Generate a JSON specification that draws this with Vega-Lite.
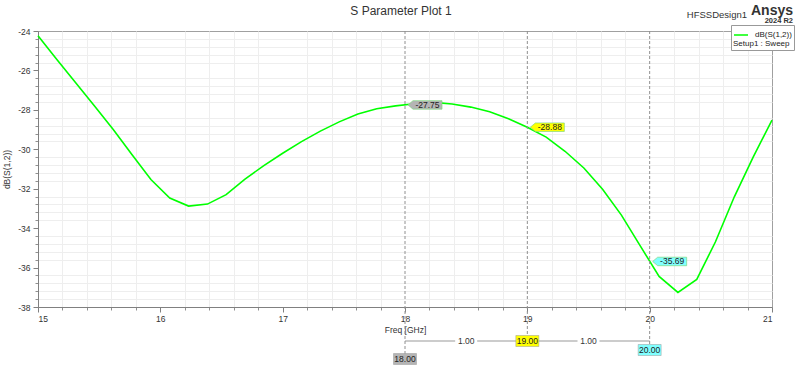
{
  "$schema": "https://vega.github.io/schema/vega-lite/v6.json",
  "width": 734,
  "height": 276,
  "autosize": {"type": "none"},
  "padding": {"left": 38, "top": 31, "right": 28, "bottom": 60},
  "background": "white",
  "config": {"font": "Liberation Sans", "view": {"stroke": "#a0a0a0", "strokeWidth": 1}},
  "resolve": {"axis": {"x": "independent", "y": "independent"}},
  "datasets": {
    "curve": [
      {"f": 15.000, "v": -24.24}, {"f": 15.154, "v": -25.45}, {"f": 15.308, "v": -26.62}, {"f": 15.462, "v": -27.80},
      {"f": 15.615, "v": -29.00}, {"f": 15.769, "v": -30.28}, {"f": 15.923, "v": -31.53}, {"f": 16.077, "v": -32.47},
      {"f": 16.231, "v": -32.88}, {"f": 16.385, "v": -32.78}, {"f": 16.538, "v": -32.30}, {"f": 16.692, "v": -31.51},
      {"f": 16.846, "v": -30.83}, {"f": 17.000, "v": -30.20}, {"f": 17.154, "v": -29.61}, {"f": 17.308, "v": -29.08},
      {"f": 17.462, "v": -28.61}, {"f": 17.615, "v": -28.21}, {"f": 17.769, "v": -27.94}, {"f": 17.923, "v": -27.80},
      {"f": 18.077, "v": -27.69}, {"f": 18.231, "v": -27.62}, {"f": 18.385, "v": -27.70}, {"f": 18.538, "v": -27.86},
      {"f": 18.692, "v": -28.10}, {"f": 18.846, "v": -28.45}, {"f": 19.000, "v": -28.88}, {"f": 19.154, "v": -29.38},
      {"f": 19.308, "v": -30.10}, {"f": 19.462, "v": -30.95}, {"f": 19.615, "v": -32.03}, {"f": 19.769, "v": -33.34},
      {"f": 19.923, "v": -34.90}, {"f": 20.077, "v": -36.45}, {"f": 20.231, "v": -37.26}, {"f": 20.385, "v": -36.60},
      {"f": 20.538, "v": -34.69}, {"f": 20.692, "v": -32.41}, {"f": 20.846, "v": -30.40}, {"f": 21.000, "v": -28.52}
    ],
    "markers": [
      {"name": "m1", "f": 18, "v": -27.75, "label": "-27.75"},
      {"name": "m2", "f": 19, "v": -28.88, "label": "-28.88"},
      {"name": "m3", "f": 20, "v": -35.69, "label": "-35.69"}
    ],
    "deltas": [
      {"a": 18, "b": 19, "d": "1.00"},
      {"a": 19, "b": 20, "d": "1.00"}
    ]
  },
  "layer": [
    {
      "data": {"name": "markers"},
      "mark": {"type": "point", "opacity": 0},
      "encoding": {
        "x": {"field": "f", "type": "quantitative",
          "scale": {"domain": [15, 21], "nice": false, "zero": false},
          "axis": {"orient": "bottom", "title": null, "labels": false, "domain": false,
            "values": [15.2,15.4,15.6,15.8,16.2,16.4,16.6,16.8,17.2,17.4,17.6,17.8,18.2,18.4,18.6,18.8,19.2,19.4,19.6,19.8,20.2,20.4,20.6,20.8],
            "tickSize": 3, "tickColor": "#909090", "gridColor": "#eeeeee"}},
        "y": {"field": "v", "type": "quantitative",
          "scale": {"domain": [-38, -24], "nice": false, "zero": false},
          "axis": {"orient": "left", "title": null, "labels": false, "domain": false,
            "values": [-37.6,-37.2,-36.8,-36.4,-35.6,-35.2,-34.8,-34.4,-33.6,-33.2,-32.8,-32.4,-31.6,-31.2,-30.8,-30.4,-29.6,-29.2,-28.8,-28.4,-27.6,-27.2,-26.8,-26.4,-25.6,-25.2,-24.8,-24.4],
            "tickSize": 3, "tickColor": "#909090", "gridColor": "#eeeeee"}}
      }
    },
    {
      "data": {"name": "curve"},
      "mark": {"type": "line", "strokeWidth": 1.6},
      "encoding": {
        "x": {"field": "f", "type": "quantitative",
          "scale": {"domain": [15, 21], "nice": false, "zero": false},
          "axis": {"orient": "bottom", "title": "Freq [GHz]", "values": [15, 16, 17, 18, 19, 20, 21],
            "labelFlush": true, "labelPadding": 2, "labelColor": "#333333", "labelFontSize": 8.5,
            "domainColor": "#808080", "tickColor": "#808080", "tickSize": 5, "gridColor": "#d4d4d4",
            "titleFontSize": 8.5, "titleFontWeight": "normal", "titleColor": "#333333", "titlePadding": 3}},
        "y": {"field": "v", "type": "quantitative",
          "scale": {"domain": [-38, -24], "nice": false, "zero": false},
          "axis": {"orient": "left", "title": "dB(S(1,2))", "values": [-38, -36, -34, -32, -30, -28, -26, -24],
            "labelExpr": "'' + datum.value",
            "labelFlush": false, "labelPadding": 3, "labelColor": "#333333", "labelFontSize": 8.5,
            "domainColor": "#808080", "tickColor": "#808080", "tickSize": 5, "gridColor": "#d4d4d4",
            "titleFontSize": 8.5, "titleFontWeight": "normal", "titleColor": "#333333", "titlePadding": 6}},
        "color": {"datum": "dB(S(1,2))", "type": "nominal",
          "scale": {"range": ["#00ff00"]},
          "legend": {"orient": "none", "legendX": 693, "legendY": -6, "title": "Setup1 : Sweep", "titleOrient": "bottom", "titleAnchor": "start",
            "titleFontSize": 8, "titleFontWeight": "normal", "titleColor": "#222222", "titlePadding": 1,
            "labelFontSize": 8, "labelColor": "#222222", "labelOffset": 6,
            "symbolType": "stroke", "symbolSize": 196, "symbolStrokeWidth": 1.5,
            "fillColor": "white", "strokeColor": "#999999", "padding": 2, "rowPadding": 0}}
      }
    },
    {
      "data": {"name": "deltas"},
      "mark": {"type": "rule", "color": "#cccccc", "strokeWidth": 2, "yOffset": 34},
      "encoding": {"x": {"field": "a", "type": "quantitative", "axis": null}, "x2": {"field": "b"}, "y": {"datum": -38, "axis": null}}
    },
    {
      "data": {"name": "deltas"},
      "transform": [{"calculate": "(datum.a + datum.b) / 2", "as": "mid"}],
      "layer": [
        {"mark": {"type": "point", "shape": "M-2.2,-1 L2.2,-1 L2.2,1 L-2.2,1 Z", "size": 100, "filled": true, "fill": "white", "strokeWidth": 0, "opacity": 1, "yOffset": 34},
         "encoding": {"x": {"field": "mid", "type": "quantitative", "axis": null}, "y": {"datum": -38, "axis": null}}},
        {"mark": {"type": "text", "fontSize": 8.5, "color": "#333333", "baseline": "middle", "align": "center", "yOffset": 34},
         "encoding": {"x": {"field": "mid", "type": "quantitative", "axis": null}, "y": {"datum": -38, "axis": null}, "text": {"field": "d"}}}
      ]
    },
    {
      "data": {"name": "markers"},
      "transform": [{"filter": "datum.name === 'm1'"}],
      "layer": [
        {"mark": {"type": "rule", "strokeDash": [3, 2], "color": "#909090", "y2Offset": 47},
         "encoding": {"x": {"field": "f", "type": "quantitative", "axis": null}, "y": {"datum": -24, "axis": null}, "y2": {"datum": -38}}},
        {"mark": {"type": "point", "shape": "M-2.3,-1.1 L2.3,-1.1 L2.3,1.1 L-2.3,1.1 Z", "size": 100, "filled": true, "fill": "#b4b4b4", "stroke": "#999999", "strokeWidth": 0.5, "opacity": 1, "yOffset": 52},
         "encoding": {"x": {"field": "f", "type": "quantitative", "axis": null}, "y": {"datum": -38, "axis": null}}},
        {"mark": {"type": "text", "fontSize": 8.5, "color": "#222222", "baseline": "middle", "align": "center", "yOffset": 52},
         "encoding": {"x": {"field": "f", "type": "quantitative", "axis": null}, "y": {"datum": -38, "axis": null}, "text": {"field": "f", "format": ".2f"}}},
        {"mark": {"type": "point", "shape": "M0.6,0 L1.6,-0.85 L7.4,-0.85 L7.4,0.85 L1.6,0.85 Z", "size": 100, "filled": true, "fill": "#b4b4b4", "stroke": "#80d880", "strokeWidth": 0.7, "opacity": 1},
         "encoding": {"x": {"field": "f", "type": "quantitative", "axis": null}, "y": {"field": "v", "type": "quantitative", "axis": null}}},
        {"mark": {"type": "text", "fontSize": 8.5, "color": "#222222", "baseline": "middle", "align": "center", "dx": 22.5},
         "encoding": {"x": {"field": "f", "type": "quantitative", "axis": null}, "y": {"field": "v", "type": "quantitative", "axis": null}, "text": {"field": "label"}}}
      ]
    },
    {
      "data": {"name": "markers"},
      "transform": [{"filter": "datum.name === 'm2'"}],
      "layer": [
        {"mark": {"type": "rule", "strokeDash": [3, 2], "color": "#909090", "y2Offset": 29},
         "encoding": {"x": {"field": "f", "type": "quantitative", "axis": null}, "y": {"datum": -24, "axis": null}, "y2": {"datum": -38}}},
        {"mark": {"type": "point", "shape": "M-2.3,-1.1 L2.3,-1.1 L2.3,1.1 L-2.3,1.1 Z", "size": 100, "filled": true, "fill": "#ffff00", "stroke": "#999999", "strokeWidth": 0.5, "opacity": 1, "yOffset": 34},
         "encoding": {"x": {"field": "f", "type": "quantitative", "axis": null}, "y": {"datum": -38, "axis": null}}},
        {"mark": {"type": "text", "fontSize": 8.5, "color": "#222222", "baseline": "middle", "align": "center", "yOffset": 34},
         "encoding": {"x": {"field": "f", "type": "quantitative", "axis": null}, "y": {"datum": -38, "axis": null}, "text": {"field": "f", "format": ".2f"}}},
        {"mark": {"type": "point", "shape": "M0.6,0 L1.6,-0.85 L7.4,-0.85 L7.4,0.85 L1.6,0.85 Z", "size": 100, "filled": true, "fill": "#ffff00", "stroke": "#80d880", "strokeWidth": 0.7, "opacity": 1},
         "encoding": {"x": {"field": "f", "type": "quantitative", "axis": null}, "y": {"field": "v", "type": "quantitative", "axis": null}}},
        {"mark": {"type": "text", "fontSize": 8.5, "color": "#222222", "baseline": "middle", "align": "center", "dx": 22.5},
         "encoding": {"x": {"field": "f", "type": "quantitative", "axis": null}, "y": {"field": "v", "type": "quantitative", "axis": null}, "text": {"field": "label"}}}
      ]
    },
    {
      "data": {"name": "markers"},
      "transform": [{"filter": "datum.name === 'm3'"}],
      "layer": [
        {"mark": {"type": "rule", "strokeDash": [3, 2], "color": "#909090", "y2Offset": 38},
         "encoding": {"x": {"field": "f", "type": "quantitative", "axis": null}, "y": {"datum": -24, "axis": null}, "y2": {"datum": -38}}},
        {"mark": {"type": "point", "shape": "M-2.3,-1.1 L2.3,-1.1 L2.3,1.1 L-2.3,1.1 Z", "size": 100, "filled": true, "fill": "#80ffff", "stroke": "#999999", "strokeWidth": 0.5, "opacity": 1, "yOffset": 43},
         "encoding": {"x": {"field": "f", "type": "quantitative", "axis": null}, "y": {"datum": -38, "axis": null}}},
        {"mark": {"type": "text", "fontSize": 8.5, "color": "#222222", "baseline": "middle", "align": "center", "yOffset": 43},
         "encoding": {"x": {"field": "f", "type": "quantitative", "axis": null}, "y": {"datum": -38, "axis": null}, "text": {"field": "f", "format": ".2f"}}},
        {"mark": {"type": "point", "shape": "M0.6,0 L1.6,-0.85 L7.4,-0.85 L7.4,0.85 L1.6,0.85 Z", "size": 100, "filled": true, "fill": "#80ffff", "stroke": "#80d880", "strokeWidth": 0.7, "opacity": 1},
         "encoding": {"x": {"field": "f", "type": "quantitative", "axis": null}, "y": {"field": "v", "type": "quantitative", "axis": null}}},
        {"mark": {"type": "text", "fontSize": 8.5, "color": "#222222", "baseline": "middle", "align": "center", "dx": 22.5},
         "encoding": {"x": {"field": "f", "type": "quantitative", "axis": null}, "y": {"field": "v", "type": "quantitative", "axis": null}, "text": {"field": "label"}}}
      ]
    },
    {
      "data": {"values": [{"t0": "S Parameter Plot 1", "t1": "HFSSDesign1", "t2": "Ansys", "t3": "2024 R2"}]},
      "layer": [
        {"mark": {"type": "text", "fontSize": 12, "color": "#333333", "align": "center", "baseline": "alphabetic", "dx": -4, "dy": -16},
         "encoding": {"x": {"datum": 18, "axis": null}, "y": {"datum": -24, "axis": null}, "text": {"field": "t0"}}},
        {"mark": {"type": "text", "fontSize": 9.5, "color": "#333333", "align": "right", "baseline": "alphabetic", "dx": -25, "dy": -13.5},
         "encoding": {"x": {"datum": 21, "axis": null}, "y": {"datum": -24, "axis": null}, "text": {"field": "t1"}}},
        {"mark": {"type": "text", "fontSize": 14, "fontWeight": "bold", "color": "#333333", "align": "right", "baseline": "alphabetic", "dx": 21, "dy": -16.5},
         "encoding": {"x": {"datum": 21, "axis": null}, "y": {"datum": -24, "axis": null}, "text": {"field": "t2"}}},
        {"mark": {"type": "text", "fontSize": 7.5, "fontWeight": "bold", "color": "#333333", "align": "right", "baseline": "alphabetic", "dx": 21, "dy": -8},
         "encoding": {"x": {"datum": 21, "axis": null}, "y": {"datum": -24, "axis": null}, "text": {"field": "t3"}}}
      ]
    }
  ]
}
